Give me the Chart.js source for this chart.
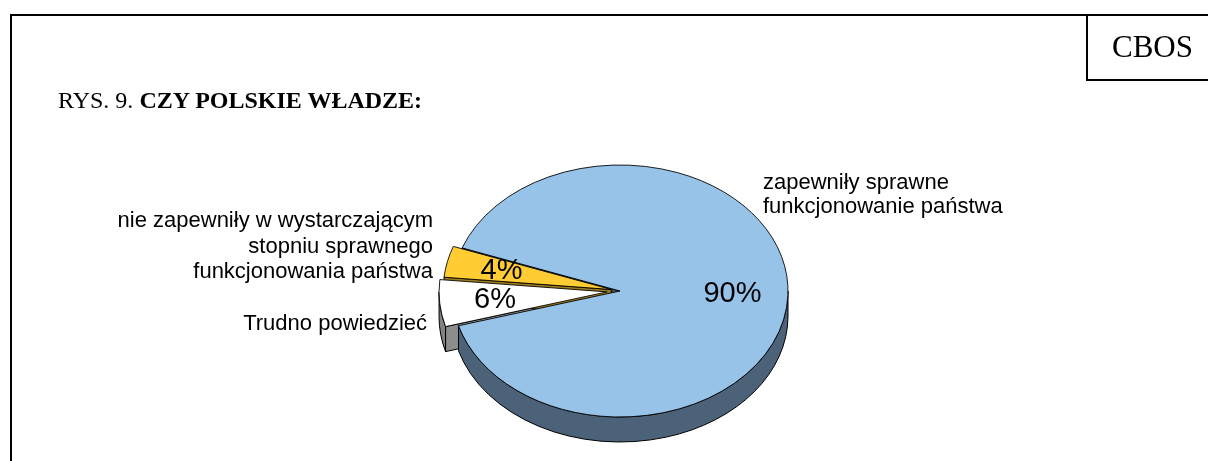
<!DOCTYPE html>
<html>
<head>
<meta charset="utf-8">
<script src="https://cdn.jsdelivr.net/npm/chart.js@4/dist/chart.umd.min.js"></script>
<style>
html,body{margin:0;padding:0;background:#fff;}
#wrap{position:relative;width:1208px;height:461px;overflow:hidden;background:#fff;}
#c{position:absolute;left:0;top:0;}
.ln{position:absolute;background:#000;}
.t{position:absolute;white-space:nowrap;color:#000;}
.serif{font-family:"Liberation Serif","Times New Roman",serif;}
.sans{font-family:"Liberation Sans",Arial,sans-serif;font-size:22px;}
</style>
</head>
<body>
<div id="wrap">
  <canvas id="c" width="1208" height="461"></canvas>
  <div class="ln" style="left:10px;top:14px;width:1198px;height:2px;"></div>
  <div class="ln" style="left:10px;top:14px;width:2px;height:447px;"></div>
  <div class="ln" style="left:1086px;top:14px;width:2px;height:67px;"></div>
  <div class="ln" style="left:1086px;top:79px;width:122px;height:2px;"></div>
  <div class="t serif" id="cbos" style="left:1112px;top:31px;font-size:31px;line-height:31px;"></div>
  <div class="t serif" id="title" style="left:58px;top:88px;font-size:24px;line-height:24px;"></div>
  <div class="t sans" id="lab0" style="left:763px;top:170px;line-height:24px;text-align:left;"></div>
  <div class="t sans" id="lab2" style="right:775px;top:207px;line-height:25.5px;text-align:right;"></div>
  <div class="t sans" id="lab1" style="right:781px;top:310px;line-height:25px;text-align:right;"></div>
</div>
<script>
// ---- data ----
const titlePrefix = "RYS. 9. ";
const titleBold = "CZY POLSKIE WŁADZE:";
const sourceLabel = "CBOS";
const categoryLines = [
  ["zapewniły sprawne", "funkcjonowanie państwa"],
  ["Trudno powiedzieć"],
  ["nie zapewniły w wystarczającym", "stopniu sprawnego", "funkcjonowania państwa"]
];
const categories = categoryLines.map(l => l.join(" "));
const values = [90, 6, 4];
const valueLabels = ["90%", "6%", "4%"];

// ---- style ----
const STYLE = {
  top: ["#98C3E8", "#FFFFFF", "#FFCC33"],
  side: ["#4B6279", "#828282", "#9C7C1E"],
  face: ["#3E5366", "#8C8C8C", "#9C7C1E"],
  explode: [0, 13, 9],
  depth: 25,
  squash: 0.75,
  labelFrac: 0.67,
  labelFont: '29px "Liberation Sans", Arial, sans-serif'
};

// ---- text ----
document.getElementById("cbos").textContent = sourceLabel;
const tEl = document.getElementById("title");
tEl.appendChild(document.createTextNode(titlePrefix));
const b = document.createElement("b"); b.textContent = titleBold; tEl.appendChild(b);
categoryLines.forEach((lines, i) => {
  const el = document.getElementById("lab" + i);
  lines.forEach((ln, j) => {
    if (j) el.appendChild(document.createElement("br"));
    el.appendChild(document.createTextNode(ln));
  });
});

// ---- 3D pie plugin ----
function geometry(chart) {
  const arcs = chart.getDatasetMeta(0).data;
  const k = STYLE.squash;
  return arcs.map((a, i) => {
    const cx = a.$baseX !== undefined ? a.$baseX : a.x;
    const cy = a.$baseY !== undefined ? a.$baseY : a.y;
    const mid = (a.startAngle + a.endAngle) / 2;
    const e = STYLE.explode[i] || 0;
    return {
      cx, cy, a0: a.startAngle, a1: a.endAngle, r: a.outerRadius, mid,
      dx: e * Math.cos(mid), dy: e * Math.sin(mid),
      sx: cx + e * Math.cos(mid), sy: cy + k * e * Math.sin(mid)
    };
  });
}

const pie3d = {
  id: "pie3d",
  beforeDatasetsDraw(chart) {
    const ctx = chart.ctx;
    const arcs = chart.getDatasetMeta(0).data;
    if (!arcs.length) return;
    const k = STYLE.squash, D = STYLE.depth;
    const geo = geometry(chart);
    ctx.save();
    ctx.lineWidth = 1;
    ctx.strokeStyle = "#000";
    ctx.lineJoin = "round";
    // radial cut faces
    geo.forEach((g, i) => {
      [[g.a0, Math.cos(g.a0) < 0], [g.a1, Math.cos(g.a1) > 0]].forEach(([ang, vis]) => {
        if (!vis || !STYLE.explode.some(v => v > 0)) return;
        const px = g.sx + g.r * Math.cos(ang), py = g.sy + k * g.r * Math.sin(ang);
        ctx.beginPath();
        ctx.moveTo(g.sx, g.sy);
        ctx.lineTo(px, py);
        ctx.lineTo(px, py + D);
        ctx.lineTo(g.sx, g.sy + D);
        ctx.closePath();
        ctx.fillStyle = STYLE.face[i];
        ctx.fill();
        ctx.stroke();
      });
    });
    // outer curved sides (front half only)
    geo.forEach((g, i) => {
      for (let n = -2; n <= 2; n++) {
        const lo = Math.max(g.a0, n * 2 * Math.PI);
        const hi = Math.min(g.a1, n * 2 * Math.PI + Math.PI);
        if (hi <= lo) continue;
        ctx.beginPath();
        ctx.ellipse(g.sx, g.sy, g.r, g.r * k, 0, lo, hi, false);
        ctx.ellipse(g.sx, g.sy + D, g.r, g.r * k, 0, hi, lo, true);
        ctx.closePath();
        ctx.fillStyle = STYLE.side[i];
        ctx.fill();
        ctx.stroke();
      }
    });
    ctx.restore();
    // explode slices and squash into an ellipse
    arcs.forEach((a, i) => {
      a.$baseX = geo[i].cx; a.$baseY = geo[i].cy;
      a.x = geo[i].cx + geo[i].dx;
      a.y = geo[i].cy + geo[i].dy;
    });
    const cx = geo[0].cx, cy = geo[0].cy;
    ctx.save();
    ctx.translate(cx, cy);
    ctx.scale(1, k);
    ctx.translate(-cx, -cy);
  },
  afterDatasetsDraw(chart) {
    const ctx = chart.ctx;
    const arcs = chart.getDatasetMeta(0).data;
    if (!arcs.length) return;
    ctx.restore();
    const geo = geometry(chart);
    arcs.forEach(a => { a.x = a.$baseX; a.y = a.$baseY; delete a.$baseX; delete a.$baseY; });
    const k = STYLE.squash;
    ctx.save();
    ctx.font = STYLE.labelFont;
    ctx.fillStyle = "#000";
    ctx.textAlign = "center";
    ctx.textBaseline = "middle";
    geo.forEach((g, i) => {
      const rr = g.r * STYLE.labelFrac;
      ctx.fillText(valueLabels[i], g.sx + rr * Math.cos(g.mid), g.sy + k * rr * Math.sin(g.mid));
    });
    ctx.restore();
  }
};

new Chart(document.getElementById("c"), {
  type: "pie",
  data: {
    labels: categories,
    datasets: [{
      data: values,
      backgroundColor: STYLE.top,
      borderColor: "#000",
      borderWidth: 1
    }]
  },
  options: {
    responsive: false,
    animation: false,
    events: [],
    rotation: -70,
    radius: 168,
    layout: { padding: { left: 32, top: 121, right: 0, bottom: 0 } },
    plugins: { legend: { display: false }, tooltip: { enabled: false } }
  },
  plugins: [pie3d]
});
</script>
</body>
</html>
